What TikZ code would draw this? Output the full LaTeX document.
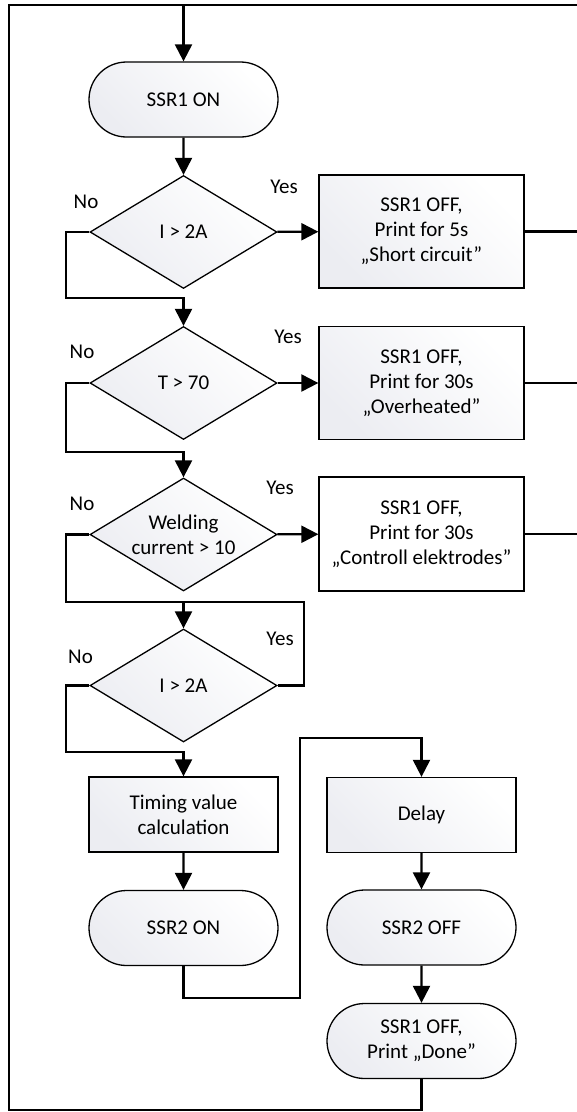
\documentclass[tikz,border=0pt]{standalone}
\usepackage{fontspec}
\setmainfont{Carlito}
\usetikzlibrary{shapes.geometric,shapes.misc,arrows.meta}
\definecolor{shgray}{RGB}{236,237,242}
\begin{document}
\begin{tikzpicture}[x=1pt,y=-1pt,
  every node/.style={font=\fontsize{21pt}{25pt}\selectfont},
  conn/.style={line width=2.2pt},
  arr/.style={conn,-{Triangle[length=17pt,width=17pt]}},
  shapeline/.style={draw=black, line width=1.3pt, left color=shgray, right color=white, shading angle=135, align=center, inner sep=0pt},
  plainline/.style={draw=black, line width=1.3pt, fill=white, align=center, inner sep=0pt},
  term/.style={shapeline, rounded rectangle, minimum width=189pt, minimum height=75pt},
  proc/.style={shapeline, rectangle, minimum width=189pt, minimum height=75pt},
  msg/.style={shapeline, rectangle, minimum width=205pt, minimum height=113pt},
  msgw/.style={plainline, rectangle, minimum width=205pt, minimum height=114pt},
  dec/.style={shapeline, diamond, minimum width=187pt, minimum height=113pt, shape aspect=1.65},
  lbl/.style={anchor=base}
]
\useasboundingbox (0,0) rectangle (577,1112);

\node[term] (s1on) at (183.5,99.5) {SSR1 ON};
\node[dec] (d1) at (183.5,232) {I > 2A};
\node[msg] (b1) at (421.5,231.5) {SSR1 OFF,\\Print for 5s\\„Short circuit”};
\node[dec] (d2) at (183.5,383) {T > 70};
\node[msg] (b2) at (421.5,383) {SSR1 OFF,\\Print for 30s\\„Overheated”};
\node[dec] (d3) at (183.5,534.5) {Welding\\current > 10};
\node[msgw] (b3) at (421.5,534) {SSR1 OFF,\\Print for 30s\\„Controll elektrodes”};
\node[dec] (d4) at (183.5,685.5) {I > 2A};
\node[proc] (tv) at (183.5,814.5) {Timing value\\calculation};
\node[term] (s2on) at (183.5,928) {SSR2 ON};
\node[proc] (dl) at (421.5,815) {Delay};
\node[term] (s2off) at (421.5,927.5) {SSR2 OFF};
\node[term] (done) at (421.5,1041) {SSR1 OFF,\\Print „Done”};

\coordinate (top) at (183.5,5);
\coordinate (tr) at (577,5);
\coordinate (bl) at (9,1110);
\coordinate (l1) at (66,298);
\coordinate (l2) at (66,452);
\coordinate (l3) at (66,602);
\coordinate (y4) at (304,602);
\coordinate (l4) at (66,752);
\coordinate (q1) at (300,998);
\coordinate (q2) at (421.5,738);

\draw[arr] (done.south) |- (bl) |- (top) -- (s1on.north);
\draw[conn] (top) -- (tr);
\draw[arr] (s1on) -- (d1);

\draw[arr] (d1) -- (b1);
\draw[conn] (b1.east) -- (b1.east -| tr);
\draw[arr] (d1.west) -| (l1) -| (d2.north);

\draw[arr] (d2) -- (b2);
\draw[conn] (b2.east) -- (b2.east -| tr);
\draw[arr] (d2.west) -| (l2) -| (d3.north);

\draw[arr] (d3) -- (b3);
\draw[conn] (b3.east) -- (b3.east -| tr);
\draw[arr] (d3.west) -| (l3) -| (d4.north);
\draw[conn] (d4.east) -| (y4) -- (l3 -| d4.north);

\draw[arr] (d4.west) -| (l4) -| (tv.north);
\draw[arr] (tv) -- (s2on);
\draw[arr] (s2on.south) |- (q1) |- (q2) -- (dl.north);
\draw[arr] (dl) -- (s2off);
\draw[arr] (s2off) -- (done);

\node[lbl] (no1) at (86,208) {No};
\node[lbl] (yes1) at (284,193) {Yes};
\node[lbl] (no2) at (82,358) {No};
\node[lbl] (yes2) at (288,343) {Yes};
\node[lbl] (no3) at (82,510) {No};
\node[lbl] (yes3) at (280,494) {Yes};
\node[lbl] (no4) at (80.5,663) {No};
\node[lbl] (yes4) at (280,645) {Yes};
\end{tikzpicture}
\end{document}
